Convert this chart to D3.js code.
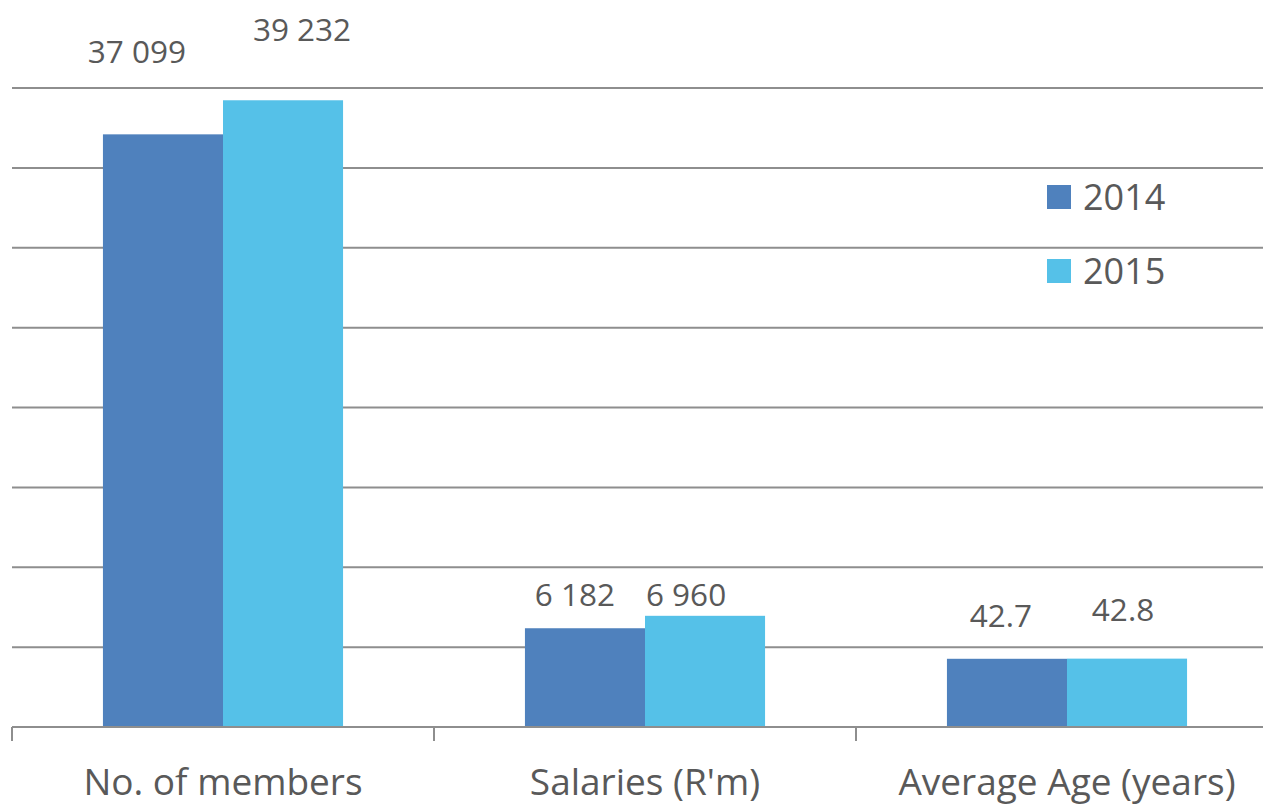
<!DOCTYPE html>
<html>
<head>
<meta charset="utf-8">
<script src="https://cdn.jsdelivr.net/npm/d3@7"></script>
<style>
  html, body { margin: 0; padding: 0; background: #fff; }
  svg { display: block; font-family: "Open Sans", "Liberation Sans", sans-serif; }
</style>
</head>
<body>
<svg id="chart" width="1263" height="806"></svg>
<script>
// data
const categories = ["No. of members", "Salaries (R'm)", "Average Age (years)"]
const series = ["2014", "2015"]
// plotted heights (age is drawn x100 in the original chart so it is visible)
const values2014 = [37099, 6182, 4270]
const values2015 = [39232, 6960, 4280]
const labels2014 = ["37 099", "6 182", "42.7"]
const labels2015 = ["39 232", "6 960", "42.8"]

const colors = { "2014": "#4F81BD", "2015": "#55C1E8" }
const textColor = "#595959"
const gridColor = "#8e8e8e"

// label nudges [dx, dy] from bar top centre, as placed in the original
const labelNudge = {
    "2014": [[-26, -71], [-10, -22], [-6, -32]],
    "2015": [[19, -59], [-19, -10], [-4, -38]]
}

const svg = d3.select("#chart")
const baseY = 727, topY = 88
const left = 12, right = 1278

const x0 = d3.scaleBand().domain(categories).range([left, right])
    .paddingInner(0.431).paddingOuter(0.2155)
const x1 = d3.scaleBand().domain(series).range([0, x0.bandwidth()])
const y = d3.scaleLinear().domain([0, 40000]).range([baseY, topY])

// gridlines
svg.append("g")
    .selectAll("line")
    .data(y.ticks(8).filter(t => t > 0))
    .enter()
    .append("line")
    .attr("x1", left).attr("x2", 1263)
    .attr("y1", d => y(d)).attr("y2", d => y(d))
    .attr("stroke", gridColor).attr("stroke-width", 2)

let rows = categories.map((c, i) => ({
    cat: c,
    bars: [
        { s: "2014", v: values2014[i], label: labels2014[i], nudge: labelNudge["2014"][i] },
        { s: "2015", v: values2015[i], label: labels2015[i], nudge: labelNudge["2015"][i] }
    ]
}))

let group = svg.selectAll(".cat-group")
    .data(rows)
    .enter()
    .append("g")
    .attr("class", "cat-group")
    .attr("transform", d => `translate(${x0(d.cat)},0)`)

group.selectAll("rect")
    .data(d => d.bars)
    .enter()
    .append("rect")
    .attr("x", d => x1(d.s))
    .attr("y", d => y(d.v))
    .attr("width", x1.bandwidth())
    .attr("height", d => baseY - y(d.v))
    .attr("fill", d => colors[d.s])

group.selectAll("text.val")
    .data(d => d.bars)
    .enter()
    .append("text")
    .attr("class", "val")
    .attr("x", d => x1(d.s) + x1.bandwidth() / 2 + d.nudge[0])
    .attr("y", d => y(d.v) + d.nudge[1])
    .attr("text-anchor", "middle")
    .attr("font-size", 31.5)
    .attr("fill", textColor)
    .text(d => d.label)

// x axis
const axisG = svg.append("g")
axisG.append("line")
    .attr("x1", left).attr("x2", 1263)
    .attr("y1", baseY).attr("y2", baseY)
    .attr("stroke", gridColor).attr("stroke-width", 2)
const tickXs = categories.map(c => x0(c) - x0.step() * x0.paddingInner() / 2)
axisG.selectAll("line.tick")
    .data(tickXs)
    .enter()
    .append("line")
    .attr("class", "tick")
    .attr("x1", d => d).attr("x2", d => d)
    .attr("y1", baseY).attr("y2", 741)
    .attr("stroke", gridColor).attr("stroke-width", 2)
axisG.selectAll("text")
    .data(categories)
    .enter()
    .append("text")
    .attr("x", d => x0(d) + x0.bandwidth() / 2)
    .attr("y", 795)
    .attr("text-anchor", "middle")
    .attr("font-size", 37)
    .attr("fill", textColor)
    .text(d => d)

// legend
const legend = svg.append("g").attr("transform", "translate(1047,185)")
let item = legend.selectAll("g")
    .data(series)
    .enter()
    .append("g")
    .attr("transform", (d, i) => `translate(0,${i * 74})`)
item.append("rect")
    .attr("width", 24).attr("height", 24)
    .attr("fill", d => colors[d])
item.append("text")
    .attr("x", 36).attr("y", 25)
    .attr("font-size", 36)
    .attr("fill", textColor)
    .text(d => d)
</script>
</body>
</html>
